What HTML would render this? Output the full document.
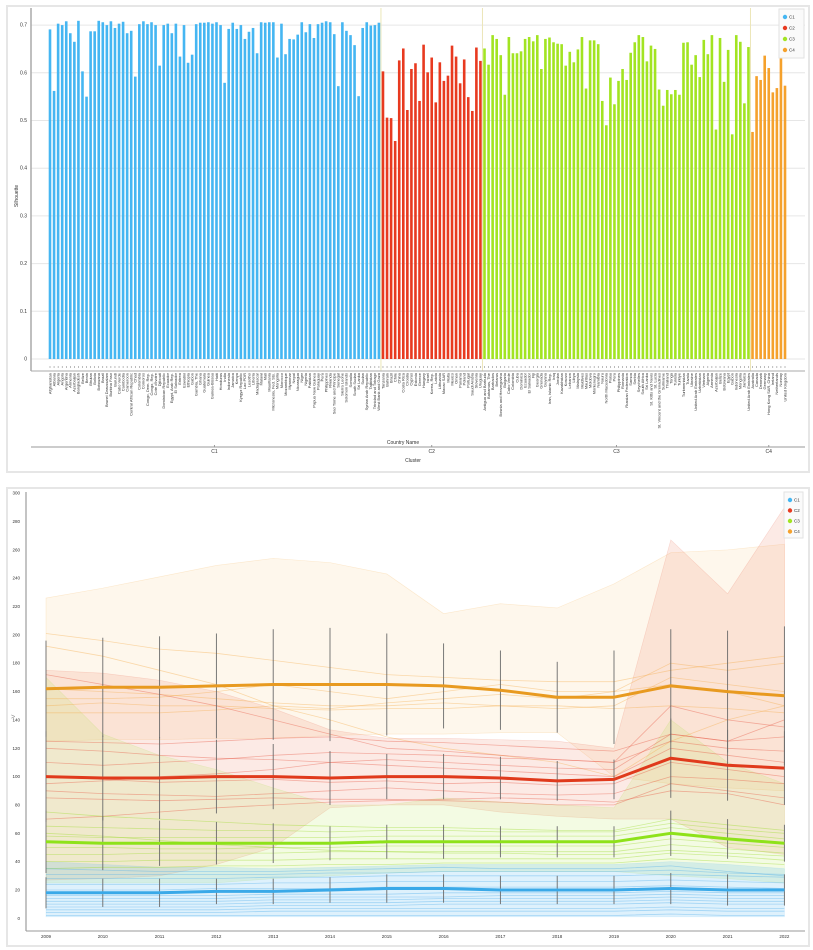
<!DOCTYPE html>
<html><head><meta charset="utf-8">
<style>
html,body{margin:0;padding:0;background:#fff;}
svg{display:block;font-family:"Liberation Sans",sans-serif;}
</style></head>
<body>
<svg id="s" width="813" height="950" viewBox="0 0 813 950" xmlns="http://www.w3.org/2000/svg">
<rect x="7" y="6" width="802" height="466" fill="#fff" stroke="#e6e6e6" stroke-width="2"/>
<rect x="7" y="488" width="802" height="458" fill="#fff" stroke="#e6e6e6" stroke-width="2"/>
<g id="topchart"></g>
<g id="botchart"></g>
</svg>
<script>
// ---------- Silhouette bar chart data ----------
const clusterNames = ["C1","C2","C3","C4"];
const clusterColors = ["#45b6f2","#e83a20","#a2e422","#f5a12c"];
const c1Values = [0.691,0.562,0.703,0.700,0.708,0.683,0.665,0.709,0.603,0.550,0.687,0.687,0.709,0.706,0.700,0.708,0.694,0.703,0.707,0.683,0.688,0.592,0.702,0.708,0.702,0.706,0.700,0.615,0.700,0.703,0.683,0.703,0.634,0.700,0.621,0.638,0.702,0.705,0.705,0.706,0.703,0.706,0.700,0.579,0.692,0.705,0.692,0.700,0.671,0.686,0.694,0.641,0.706,0.705,0.706,0.706,0.632,0.703,0.639,0.671,0.670,0.680,0.706,0.685,0.702,0.673,0.702,0.705,0.708,0.706,0.681,0.572,0.706,0.688,0.679,0.658,0.551,0.694,0.706,0.699,0.700,0.705];
const c2Values = [0.603,0.506,0.505,0.457,0.626,0.651,0.522,0.608,0.620,0.541,0.659,0.601,0.632,0.538,0.622,0.583,0.594,0.657,0.634,0.578,0.628,0.549,0.520,0.653,0.625];
const c3Values = [0.651,0.617,0.679,0.671,0.637,0.554,0.675,0.641,0.641,0.645,0.671,0.675,0.666,0.679,0.608,0.671,0.674,0.664,0.661,0.660,0.615,0.644,0.622,0.649,0.675,0.567,0.668,0.668,0.660,0.541,0.490,0.590,0.534,0.583,0.608,0.585,0.642,0.664,0.679,0.675,0.624,0.657,0.650,0.565,0.531,0.564,0.555,0.564,0.554,0.663,0.664,0.617,0.637,0.591,0.669,0.639,0.679,0.481,0.673,0.581,0.648,0.471,0.679,0.665,0.536,0.654];
const c4Values = [0.476,0.593,0.585,0.636,0.610,0.559,0.568,0.638,0.573];
const yTicksTop = [0,0.1,0.2,0.3,0.4,0.5,0.6,0.7];
const countryNames = ["Afghanistan","Albania","Algeria","Angola","Argentina","Armenia","Azerbaijan","Bangladesh","Belize","Benin","Bhutan","Bolivia","Botswana","Brazil","Brunei Darussalam","Burkina Faso","Burundi","Cabo Verde","Cambodia","Cameroon","Central African Republic","Chad","Colombia","Comoros","Congo, Dem. Rep.","Congo, Rep.","Cote d'Ivoire","Djibouti","Dominican Republic","Ecuador","Egypt, Arab Rep.","El Salvador","Eritrea","Eswatini","Ethiopia","Gabon","Gambia, The","Ghana","Guatemala","Guinea","Guinea-Bissau","Haiti","Honduras","India","Indonesia","Jamaica","Kenya","Kyrgyz Republic","Lao PDR","Lesotho","Liberia","Madagascar","Malawi","Mali","Mauritania","Micronesia, Fed. Sts.","Mongolia","Morocco","Mozambique","Myanmar","Nepal","Nicaragua","Niger","Nigeria","Pakistan","Papua New Guinea","Paraguay","Peru","Philippines","Rwanda","Sao Tome and Principe","Senegal","Sierra Leone","Solomon Islands","Somalia","South Sudan","Sri Lanka","Sudan","Syrian Arab Republic","Tajikistan","Trinidad and Tobago","West Bank and Gaza",
"Tanzania","Bahrain","Brazil","Chile","China","Costa Rica","Croatia","Cyprus","Estonia","Greece","Hungary","Israel","Korea, Rep.","Latvia","Lithuania","Macao SAR","Malta","Mexico","Oman","Panama","Poland","Portugal","Saudi Arabia","Slovenia","Uruguay",
"Antigua and Barbuda","Bahamas, The","Barbados","Belarus","Bosnia and Herzegovina","Bulgaria","Cabo Verde","Colombia","Cuba","Dominica","Ecuador","El Salvador","Fiji","Georgia","Grenada","Guyana","Iran, Islamic Rep.","Iraq","Jordan","Kazakhstan","Kosovo","Lebanon","Libya","Malaysia","Maldives","Mauritius","Moldova","Montenegro","Namibia","Nauru","North Macedonia","Palau","Peru","Philippines","Romania","Russian Federation","Samoa","Serbia","Seychelles","South Africa","Sri Lanka","St. Kitts and Nevis","St. Lucia","St. Vincent and the Grenadines","Suriname","Thailand","Tonga","Tunisia","Turkiye","Turkmenistan","Tuvalu","Ukraine","United Arab Emirates","Uzbekistan","Vietnam","Algeria","Armenia","Azerbaijan","Belize","Botswana","Egypt","Gabon","Indonesia","Mongolia","Jamaica","United Arab Emirates",
"Australia","Canada","Denmark","Germany","Hong Kong SAR, China","Ireland","Netherlands","Norway","United Kingdom"];

// ---------- Time series data ----------
const years = [2009,2010,2011,2012,2013,2014,2015,2016,2017,2018,2019,2020,2021,2022];
const yTicksBot = [0,20,40,60,80,100,120,140,160,180,200,220,240,260,280,300];
const meanC1 = [18,18,18,19,19,20,21,21,20,20,20,21,20,20];
const meanC2 = [100,99,99,100,100,99,100,100,99,97,98,113,108,106];
const meanC3 = [54,53,53,53,53,53,54,54,54,54,54,60,56,53];
const meanC4 = [162,163,163,164,165,165,165,164,161,156,156,164,160,157];
const sdC1 = [11,10,10,9,9,9,10,10,10,10,10,11,11,11];
const sdC2 = [32,30,29,26,23,19,16,16,15,14,14,28,25,26];
const sdC3 = [22,19,16,15,14,12,12,12,11,11,11,16,14,13];
const sdC4 = [34,35,36,37,39,40,36,30,28,25,33,40,43,49];
const maxC1 = [40,38,36,36,35,36,37,38,38,38,38,40,38,35];
const minC1 = [1,1,1,1,1,1,1,1,1,1,1,1,1,1];
const maxC2 = [175,173,168,160,148,133,127,127,126,125,120,267,229,290];
const minC2 = [27,28,30,38,50,78,80,80,75,72,70,70,50,45];
const maxC3 = [170,130,115,105,92,80,80,85,82,80,78,140,110,95];
const minC3 = [25,25,25,25,28,30,32,33,33,33,33,30,28,25];
const maxC4 = [226,233,241,249,254,251,243,215,222,219,236,258,260,264];
const minC4 = [125,126,126,127,127,129,130,130,131,131,100,95,92,90];
const linesC1 = [
 [35,34,33,33,33,34,35,36,35,35,35,37,33,30],
 [31,31,31,31,31,32,32,33,33,33,33,34,32,31],
 [28,28,28,28,29,29,30,30,30,30,30,31,30,29],
 [24,24,24,24,25,25,26,26,26,26,26,27,26,25],
 [20,20,20,21,21,21,22,22,22,22,22,23,22,21],
 [16,16,16,16,17,17,17,18,18,18,18,19,18,18],
 [14,14,14,14,15,15,15,15,16,16,16,17,16,16],
 [12,12,12,12,13,13,13,14,14,14,14,15,14,14],
 [10,10,10,10,11,11,11,12,12,12,12,13,12,12],
 [8,8,8,8,9,9,9,10,10,10,10,11,10,10],
 [6,6,6,6,7,7,7,7,7,7,7,8,7,7],
 [4,4,4,4,5,5,5,5,5,5,5,6,5,5],
 [2,2,2,2,2,2,2,2,2,2,2,3,2,2]];
const linesC2 = [
 [172,165,158,150,140,130,120,118,115,112,110,150,140,135],
 [125,124,123,125,127,128,125,124,122,120,118,130,125,128],
 [110,108,110,112,115,117,116,115,113,112,110,125,120,118],
 [100,98,96,97,98,96,97,95,96,94,95,110,105,100],
 [90,88,87,86,88,90,92,90,88,87,88,100,98,95],
 [85,84,83,84,85,84,84,83,82,80,80,95,90,85],
 [70,72,75,78,80,82,83,84,85,84,82,90,88,80],
 [120,118,115,113,112,110,108,106,104,102,100,120,115,110],
 [95,97,100,102,105,110,112,110,108,106,105,130,125,140]];
const linesC3 = [
 [75,72,70,68,66,65,64,64,63,62,62,70,66,62],
 [65,64,63,62,62,61,62,62,61,61,61,67,63,60],
 [58,57,57,57,57,57,58,58,58,58,58,64,60,56],
 [50,50,49,49,50,50,51,51,51,51,51,56,53,50],
 [45,45,46,46,46,47,47,47,47,47,47,52,49,46],
 [40,40,41,41,41,42,42,42,42,42,42,46,44,41],
 [35,36,36,37,37,38,38,39,39,39,39,42,40,38],
 [60,58,55,52,50,48,47,46,46,45,45,48,46,44]];
const linesC4 = [
 [201,196,190,187,182,177,172,170,168,167,167,175,180,185],
 [192,185,175,165,150,140,128,120,115,110,100,125,140,150],
 [155,155,156,160,165,160,155,160,165,160,160,180,175,180],
 [162,160,158,155,152,150,150,152,150,148,150,170,165,160],
 [150,152,150,150,148,147,148,148,150,150,148,150,148,145],
 [145,145,145,147,150,148,152,155,158,155,160,165,160,150]];

const NS="http://www.w3.org/2000/svg";
function mk(parent,tag,attrs,text){const e=document.createElementNS(NS,tag);for(const k in attrs)e.setAttribute(k,attrs[k]);if(text!==undefined)e.textContent=text;parent.appendChild(e);return e;}

// ================= TOP CHART =================
const topG = document.getElementById('topchart');
const yT = v => 359 - v*477;
const allVals = [c1Values,c2Values,c3Values,c4Values];
const nBars = allVals.reduce((a,b)=>a+b.length,0);
const xStep = (785-50)/(nBars-1);
const xB = i => 50 + i*xStep;
yTicksTop.forEach(tv=>{
  const g=mk(topG,'line',{x1:31,x2:805,y1:yT(tv),y2:yT(tv),stroke:'#e6e6e6','stroke-width':1});
  
  
  const tx=mk(topG,'text',{x:27,y:yT(tv)+1.5,'font-size':5,'text-anchor':'end',fill:'#333'},String(tv));
  
  
});
let yl=mk(topG,'text',{x:0,y:0,'font-size':5,fill:'#333',transform:'translate(18,196) rotate(-90)','text-anchor':'middle'},'Silhouette');


let idx=0;
const bounds=[];
allVals.forEach((arr,c)=>{
  const start=idx;
  arr.forEach((v,j)=>{
    const r=mk(topG,'rect',{x:xB(idx)-1.3,y:yT(v),width:2.6,height:yT(0)-yT(v),fill:clusterColors[c]});
    
    
    const nm=countryNames[idx]||'';
    const lb=mk(topG,'text',{x:0,y:0,'font-size':4,fill:'#333','text-anchor':'end',transform:`translate(${xB(idx)+1.3},${373}) rotate(-90)`},nm);
    
    
    const tk=mk(topG,'line',{x1:xB(idx),x2:xB(idx),y1:366,y2:368,stroke:'#777','stroke-width':0.5});
    
    
    idx++;
  });
  bounds.push([start,idx-1]);
});
bounds.slice(1).forEach(b=>{
  const x=xB(b[0])-xStep/2;
  const l=mk(topG,'line',{x1:x,x2:x,y1:8,y2:371,stroke:'#ece6b8','stroke-width':1});
  
  
});
let ax=mk(topG,'line',{x1:31,x2:31,y1:8,y2:371,stroke:'#aaa','stroke-width':1.5});


ax=mk(topG,'line',{x1:31,x2:805,y1:371,y2:371,stroke:'#aaa','stroke-width':1});


ax=mk(topG,'line',{x1:31,x2:805,y1:447,y2:447,stroke:'#999','stroke-width':1});


let tt=mk(topG,'text',{x:403,y:444,'font-size':5,fill:'#333','text-anchor':'middle'},'Country Name');


tt=mk(topG,'text',{x:413,y:462,'font-size':5,fill:'#333','text-anchor':'middle'},'Cluster');


bounds.forEach((b,c)=>{
  const cx=(xB(b[0])+xB(b[1]))/2;
  const l=mk(topG,'text',{x:cx,y:453,'font-size':5,fill:'#333','text-anchor':'middle'},clusterNames[c]);
  
  
  const k=mk(topG,'line',{x1:cx,x2:cx,y1:445,y2:447,stroke:'#999'});
  
  
});
function legend(parent,x,y,w,h,step){
  const g=mk(parent,'g',{});
  
  
  mk(g,'rect',{x:x,y:y,width:w,height:h,fill:'#fafafa',stroke:'#e2e2e2'});
  clusterNames.forEach((n,c)=>{
    const e=mk(g,'g',{});
    
    
    mk(e,'circle',{cx:x+6,cy:y+8+c*step,r:2.2,fill:clusterColors[c]});
    mk(e,'text',{x:x+10,y:y+9.7+c*step,'font-size':4.5,fill:'#333'},n);
  });
}
legend(topG,779,9,25,49,11);

// ================= BOTTOM CHART =================
const botG=document.getElementById('botchart');
const X = i => 46 + i*56.8;
const Y = v => 918.3 - v*1.417;
yTicksBot.forEach(tv=>{
  const tx=mk(botG,'text',{x:20,y:Y(tv)+1.5,'font-size':4.5,fill:'#333','text-anchor':'end'},String(tv));
  
  
});
years.forEach((yr,i)=>{
  const tx=mk(botG,'text',{x:X(i),y:938,'font-size':4.5,fill:'#333','text-anchor':'middle'},String(yr));
  
  
});
const pts = arr => arr.map((v,i)=>X(i).toFixed(1)+','+Y(v).toFixed(1)).join(' ');
function band(mx,mn,fill,stroke,name){
  const p=mx.map((v,i)=>X(i)+','+Y(v)).concat(mn.map((v,i)=>[i,v]).reverse().map(([i,v])=>X(i)+','+Y(v))).join(' ');
  const e=mk(botG,'polygon',{points:p,fill:fill,stroke:stroke,'stroke-width':0.6});
  
  
}
band(maxC4,minC4,'rgba(250,210,140,0.17)','rgba(245,190,110,0.3)','band-c4');
band(maxC2,minC2,'rgba(240,130,100,0.17)','rgba(235,120,100,0.25)','band-c2');
band(maxC3,minC3,'rgba(180,230,80,0.16)','rgba(170,220,70,0.2)','band-c3');
band(maxC1,minC1,'rgba(90,185,240,0.2)','rgba(90,185,240,0.2)','band-c1');
[[linesC4,'rgba(245,170,70,0.4)','c4'],[linesC2,'rgba(230,80,60,0.4)','c2'],[linesC3,'rgba(160,220,50,0.45)','c3'],[linesC1,'rgba(70,170,235,0.4)','c1']].forEach(([ls,col,n])=>{
  ls.forEach(l=>{
    const e=mk(botG,'polyline',{points:pts(l),fill:'none',stroke:col,'stroke-width':0.8});
    
    
  });
});
[[meanC1,sdC1],[meanC2,sdC2],[meanC3,sdC3],[meanC4,sdC4]].forEach(([m,s],c)=>{
  m.forEach((v,i)=>{
    const e=mk(botG,'line',{x1:X(i),x2:X(i),y1:Y(v+s[i]),y2:Y(v-s[i]),stroke:'#6a6a6a','stroke-width':0.9});
    
    
  });
});
const meanCols=["#3aa9e8","#e03a1c","#8ee21a","#e89a20"];
[meanC1,meanC2,meanC3,meanC4].forEach((m,c)=>{
  const e=mk(botG,'polyline',{points:pts(m),fill:'none',stroke:meanCols[c],'stroke-width':3,'stroke-linejoin':'round'});
  
  
});
ax=mk(botG,'line',{x1:26,x2:26,y1:492,y2:931,stroke:'#888','stroke-width':1});


ax=mk(botG,'line',{x1:26,x2:805,y1:931,y2:931,stroke:'#999','stroke-width':1});


tt=mk(botG,'text',{x:11,y:719,'font-size':7,fill:'#888'},'>');


legend(botG,784,492,19,46,10.5);
</script>
</body></html>
